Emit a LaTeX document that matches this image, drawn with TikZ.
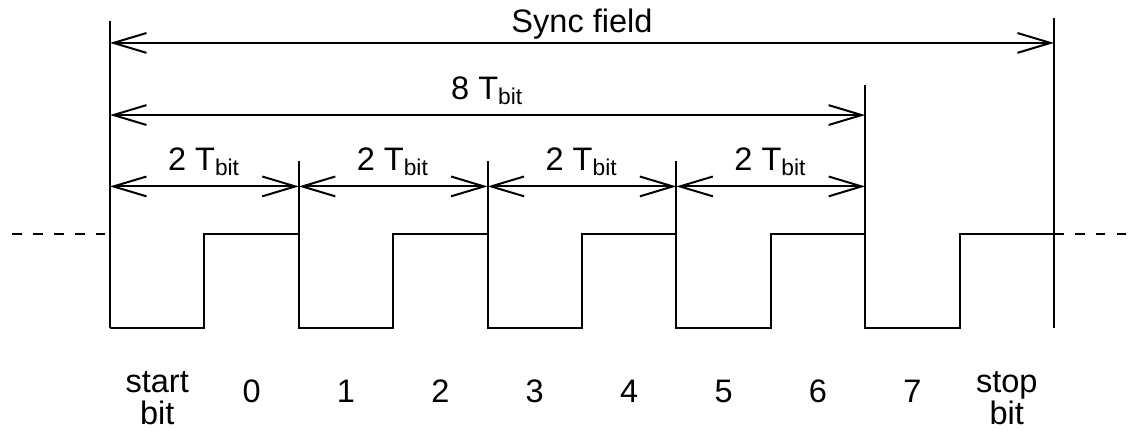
\documentclass[tikz,border=0pt]{standalone}
\usepackage{fontspec}
\setmainfont{Liberation Sans}
\usetikzlibrary{arrows.meta}
\begin{document}
\begin{tikzpicture}[line width=0.6pt,
        font=\fontsize{9.8}{9.6}\selectfont,
        dim/.style={{Straight Barb[length=3.5mm,width=2.1mm]}-{Straight Barb[length=3.5mm,width=2.1mm]}},
        tag/.style={midway,anchor=base,yshift=1.7mm,inner sep=0pt},
        idle/.style={dash pattern=on 2.9pt off 3.4pt}]
\useasboundingbox (-1.165,-1.07) rectangle (10.869,3.475);

% frame lines of the sync field
\coordinate (top0) at (0,3.25);
\coordinate (top8) at (8,2.57);
\coordinate (top10) at (10,3.28);
\draw (top0) -- (0,0);
\draw (top8) -- (8,0);
\draw (top10) -- (10,0);
\foreach \k in {2,4,6}
  \draw (\k,1.77) coordinate (top\k) -- (\k,0);

% dimension arrows
\coordinate (s0) at (0,3.02);
\coordinate (s1) at (10,3.02);
\draw[dim] (s0) -- node[tag,yshift=-0.6mm] (sync) {Sync field} (s1);
\coordinate (e0) at (0,2.256);
\coordinate (e1) at (8,2.256);
\draw[dim] (e0) -- node[tag] (eight) {8 T\textsubscript{bit}} (e1);
\foreach \k in {0,2,4,6,8}
  \coordinate (d\k) at (\k,1.5);
\foreach \k/\n in {0/2,2/4,4/6,6/8}
  \draw[dim] (d\k) -- node[tag] (two\k) {2 T\textsubscript{bit}} (d\n);

% signal
\draw (0,0) -| (1,1) -| (2,0) -| (3,1) -| (4,0) -| (5,1) -| (6,0) -| (7,1)
  -| (8,0) -| (9,1) -- (10,1);
\draw[idle] (-1.035,1) -- (0,1);
\draw[idle] (10,1) -- (10.869,1);

% bit names
\node[align=center] (start) at (0.5,-0.746) {start\\bit};
\foreach \b in {0,...,7}
  \node (bit\b) at (\b+1.5,-0.673) {\b};
\node[align=center] (stop) at (9.5,-0.746) {stop\\bit};
\end{tikzpicture}
\end{document}
